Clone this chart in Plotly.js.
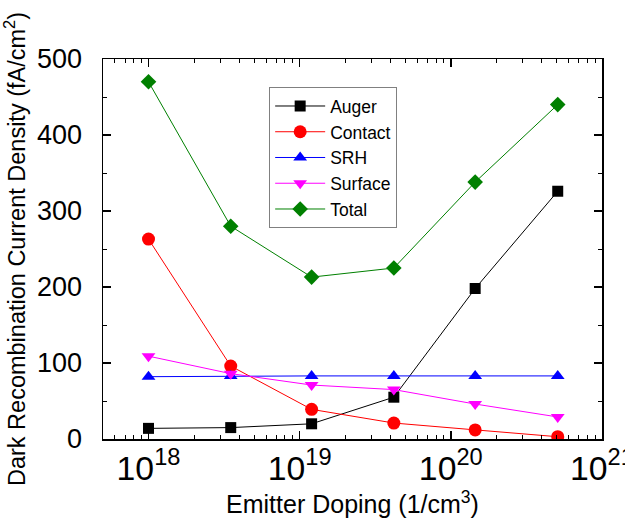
<!DOCTYPE html>
<html>
<head>
<meta charset="utf-8">
<script src="https://cdn.plot.ly/plotly-3.0.1.min.js"></script>
<style>html,body{margin:0;padding:0;background:#fff;}#chart{width:625px;height:521px;}</style>
</head>
<body>
<div id="chart"></div>
<script>
const doping = [1e18, 3.5e18, 1.2e19, 4.2e19, 1.45e20, 5.1e20];
const auger = [14, 15, 20, 55, 198, 326];
const contact = [263, 96, 39, 21, 12, 3];
const srh = [82, 83, 83, 83, 83, 83];
const surface = [109, 86, 71, 65, 46, 29];
const total = [470, 280, 213, 225, 338, 440];

const seriesNames = ['Auger', 'Contact', 'SRH', 'Surface', 'Total'];
const seriesData = [auger, contact, srh, surface, total];
const colors = ['#000000', '#ff0000', '#0000ff', '#ff00ff', '#008000'];
const symbols = ['square', 'circle', 'triangle-up', 'triangle-down', 'diamond'];
const sizes = [11, 13, 12, 12, 12];

const traces = seriesNames.map((n, i) => ({
  x: doping, y: seriesData[i], name: n, type: 'scatter', mode: 'lines+markers',
  line: {color: colors[i], width: 1},
  marker: {color: colors[i], symbol: symbols[i], size: sizes[i]}
}));

const FAM = 'Liberation Sans, Arial, sans-serif';
function axisBase() {
  return {
    showgrid: false, zeroline: false,
    showline: true, linecolor: '#000', linewidth: 1.5, mirror: 'allticks',
    ticks: 'inside', ticklen: 8, tickwidth: 1.5, tickcolor: '#000'
  };
}
const tickFontSteps = [27, 22, 16];
function buildLayout(step) {
  const tf = tickFontSteps[step];
  const xaxis = Object.assign(axisBase(), {
    type: 'log', range: [Math.log10(5e17), 21.0005],
    dtick: 1, exponentformat: 'power',
    minor: {ticks: 'inside', ticklen: 4, tickwidth: 1, tickcolor: '#000', showgrid: false},
    tickfont: {family: FAM, size: tf, color: '#000'},
    title: {text: 'Emitter Doping (1/cm<sup>3</sup>)', font: {family: FAM, size: 25, color: '#000'}, standoff: 10}
  });
  const yaxis = Object.assign(axisBase(), {
    range: [0, 500], dtick: 100,
    minor: {ticks: 'inside', ticklen: 4, tickwidth: 1, tickcolor: '#000', dtick: 50, showgrid: false},
    tickfont: {family: FAM, size: tf, color: '#000'},
    title: {text: 'Dark Recombination Current Density (fA/cm<sup>2</sup>)', font: {family: FAM, size: 23.5, color: '#000'}, standoff: 6}
  });
  if (step === 0) {
    xaxis.ticklabeloverflow = 'allow';
    yaxis.ticklabelstandoff = 14;
  }
  return {
    width: 625, height: 521,
    margin: {l: 103, r: 23, t: 59, b: 82},
    paper_bgcolor: '#fff', plot_bgcolor: '#fff',
    font: {family: FAM, color: '#000'},
    showlegend: true,
    legend: {
      x: 0.333, y: 0.926, xanchor: 'left', yanchor: 'top',
      bordercolor: '#808080', borderwidth: 1, bgcolor: '#fff',
      font: {family: FAM, size: 17.5, color: '#000'},
      itemwidth: 50
    },
    xaxis: xaxis,
    yaxis: yaxis
  };
}
const cfg = {displayModeBar: false, staticPlot: true};

async function ticksInImage() {
  try {
    const gd = document.getElementById('chart');
    const url = await Plotly.toImage(gd, {format: 'png', width: 625, height: 521});
    const img = new Image();
    await new Promise((res, rej) => { img.onload = res; img.onerror = rej; img.src = url; });
    const c = document.createElement('canvas');
    c.width = 625; c.height = 521;
    const ctx = c.getContext('2d');
    ctx.drawImage(img, 0, 0);
    const ya = gd._fullLayout.yaxis, xa = gd._fullLayout.xaxis;
    const py = Math.round(ya._offset + ya.l2p(300));
    const x0 = Math.round(xa._offset);
    let dark = 0;
    for (let dx = 3; dx <= 6; dx++) {
      for (let dy = -1; dy <= 1; dy++) {
        const d = ctx.getImageData(x0 + dx, py + dy, 1, 1).data;
        if (d[0] < 120 && d[1] < 120 && d[2] < 120) { dark++; break; }
      }
    }
    return dark >= 2;
  } catch (e) {
    return true;
  }
}

async function draw() {
  await Plotly.newPlot('chart', traces, buildLayout(0), cfg);
  if (await ticksInImage()) return;
  for (let s = 1; s < tickFontSteps.length; s++) {
    await Plotly.react('chart', traces, buildLayout(s), cfg);
    if (await ticksInImage()) return;
  }
  await Plotly.react('chart', traces, buildLayout(0), cfg);
}
draw();
</script>
</body>
</html>
